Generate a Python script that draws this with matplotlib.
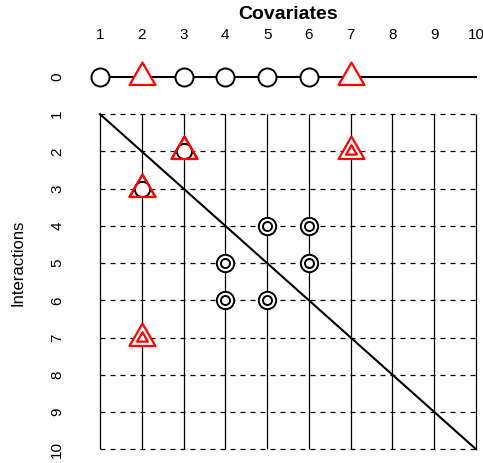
import matplotlib
matplotlib.use("Agg")
import matplotlib.pyplot as plt
import numpy as np
from matplotlib.markers import MarkerStyle
from matplotlib.path import Path

plt.rcParams["font.family"] = ["Liberation Sans", "DejaVu Sans"]

# data
covariates = [1, 2, 3, 4, 5, 6, 7, 8, 9, 10]
interactions = [0, 1, 2, 3, 4, 5, 6, 7, 8, 9, 10]
main_circle_x = [1, 3, 4, 5, 6]
main_triangle_x = [2, 7]
tri_circle_x = [3, 2]
tri_circle_y = [2, 3]
tri_tri_x = [7, 2]
tri_tri_y = [2, 7]
double_x = [5, 6, 4, 6, 4, 5]
double_y = [4, 4, 5, 5, 6, 6]

RED = "#ff0000"

# triangle centred on its centroid (like R's pch=2)
s3 = np.sqrt(3)
tri_path = Path(
    [(0, 2 / 3), (-1 / s3, -1 / 3), (1 / s3, -1 / 3), (0, 2 / 3)],
    [Path.MOVETO, Path.LINETO, Path.LINETO, Path.CLOSEPOLY],
)
tri = MarkerStyle(tri_path, joinstyle="miter")

fig = plt.figure(figsize=(4.83, 4.63), dpi=100)
ax = fig.add_axes([90 / 483, 0, 393 / 483, 403 / 463])
ax.set_xlim(0.7607, 10.167)
ax.set_ylim(10.371, -0.4567)
for sp in ax.spines.values():
    sp.set_visible(False)

# grid
grid_rows = interactions[1:]
ax.vlines(covariates, grid_rows[0], grid_rows[-1], color="black", lw=0.9, zorder=1)
ax.hlines(grid_rows, covariates[0], covariates[-1], color="black", lw=0.9,
          linestyles=(0, (4, 4)), zorder=1)
ax.plot([covariates[0], covariates[-1]], [grid_rows[0], grid_rows[-1]],
        color="black", lw=1.5, zorder=2)

# main effects row
ax.plot([covariates[0], covariates[-1]], [0, 0], color="black", lw=1.5, zorder=2)
ax.plot(main_circle_x, [0] * len(main_circle_x), "o", ms=13, mfc="white",
        mec="black", mew=1.4, zorder=3)
ax.plot(main_triangle_x, [0] * len(main_triangle_x), ls="none", marker=tri,
        ms=21.5, mfc="white", mec=RED, mew=1.6, zorder=3)

# interactions: triangle with circle
ax.plot(tri_circle_x, tri_circle_y, ls="none", marker=tri, ms=21.5, mfc="white",
        mec=RED, mew=1.6, zorder=3)
ax.plot(tri_circle_x, tri_circle_y, "o", ms=11, mfc="white", mec="black",
        mew=1.4, zorder=4)
ax.plot(tri_circle_x, tri_circle_y, ls="none", marker=tri, ms=21.5, mfc="none",
        mec=RED, mew=1.6, zorder=5)

# interactions: triangle with triangle
ax.plot(tri_tri_x, tri_tri_y, ls="none", marker=tri, ms=21.5, mfc="white",
        mec=RED, mew=1.6, zorder=3)
ax.plot(tri_tri_x, tri_tri_y, ls="none", marker=tri, ms=9, mfc="white",
        mec=RED, mew=1.6, zorder=4)

# interactions: double circles
ax.plot(double_x, double_y, "o", ms=12.5, mfc="white", mec="black", mew=1.4, zorder=3)
ax.plot(double_x, double_y, "o", ms=6.5, mfc="white", mec="black", mew=1.4, zorder=4)

# axes text
ax.xaxis.tick_top()
ax.set_xticks(covariates)
ax.set_yticks(interactions)
ax.tick_params(axis="x", length=0, pad=13, labelsize=11)
ax.tick_params(axis="y", length=0, pad=18.5, labelsize=11, labelrotation=90)
for lab in ax.get_yticklabels():
    lab.set_va("center")

ax.xaxis.set_label_position("top")
ax.set_xlabel("Covariates", fontsize=14, fontweight="bold")
ax.xaxis.set_label_coords((288 - 90) / 393, (463 - 6) / 403)
ax.xaxis.label.set_va("top")
ax.set_ylabel("Interactions", fontsize=12)
ax.yaxis.set_label_coords((18 - 90) / 393, (463 - 263) / 403)
ax.yaxis.label.set_va("center")

fig.savefig("out.png", dpi=100)
